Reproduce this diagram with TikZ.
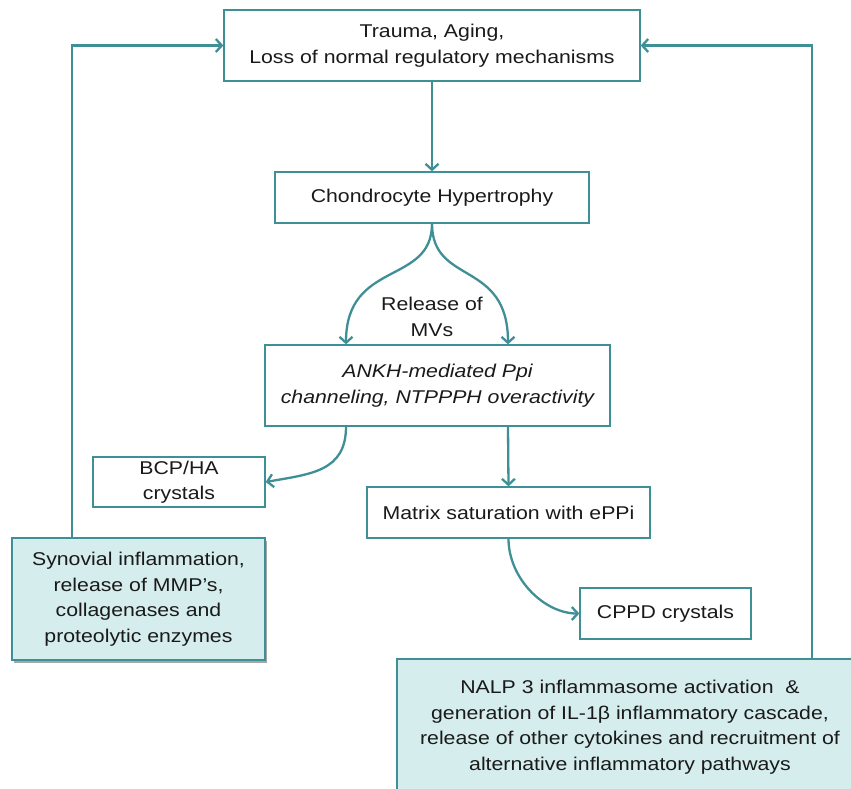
\documentclass[tikz,border=0pt]{standalone}
\usepackage{fontspec}
\setmainfont{Liberation Sans}[FakeStretch=1.15]
\usetikzlibrary{arrows.meta,shadows}
\definecolor{teal1}{HTML}{3F8F96}
\definecolor{tealfill}{HTML}{D6EDEE}
\definecolor{txt}{HTML}{1A1A1A}
\begin{document}
\begin{tikzpicture}[x=1pt,y=-1pt,
  box/.style={draw=teal1,line width=1.3pt,rectangle,inner sep=0pt,align=center,
    text=txt,font=\fontsize{18.5}{25.5}\selectfont},
  fbox/.style={box,fill=tealfill,drop shadow={shadow xshift=2pt,shadow yshift=-2.5pt,fill=black,opacity=0.35}},
  arr/.style={draw=teal1,line width=2.3pt,-{Straight Barb[length=6pt,width=13pt,line width=2.3pt]}},
  lbl/.style={text=txt,align=center,font=\fontsize{18.5}{25.5}\selectfont}]
\clip (0,0) rectangle (851,788);
\fill[white] (0,0) rectangle (851,788);
\node[box,minimum width=416pt,minimum height=71pt] (b1) at (432,45.5) {Trauma, Aging,\\Loss of normal regulatory mechanisms};
\node[box,minimum width=314pt,minimum height=51pt] (b2) at (432,197.5) {Chondrocyte Hypertrophy};
\node[box,minimum width=345pt,minimum height=81pt] (b3) at (437.5,385.5) {\itshape ANKH-mediated Ppi\\\itshape channeling, NTPPPH overactivity};
\node[box,minimum width=172pt,minimum height=50pt] (bcp) at (179,482) {BCP/HA\\crystals};
\node[box,minimum width=283pt,minimum height=51pt] (mat) at (508.5,512.5) {Matrix saturation with ePPi};
\node[fbox,minimum width=253pt,minimum height=122pt] (syn) at (138.5,599) {Synovial inflammation,\\release of MMP’s,\\collagenases and\\proteolytic enzymes};
\node[box,minimum width=171pt,minimum height=51pt] (cppd) at (665.5,613.5) {CPPD crystals};
\node[fbox,minimum width=466pt,minimum height=136pt] (nalp) at (630,727) {NALP 3 inflammasome activation \ \&\\generation of IL-1β inflammatory cascade,\\release of other cytokines and recruitment of\\alternative inflammatory pathways};
\node[lbl] (rel) at (432,317) {Release of\\MVs};
\coordinate (lc) at (72,45);
\coordinate (rc) at (812,45);
\draw[arr] (syn.north -| lc) |- (b1.west);
\draw[arr] (nalp.north -| rc) |- (b1.east);
\draw[arr] (b1.south) -- (b2.north);
\draw[arr] (b2.south) .. controls +(0,62) and +(0,-85) .. ([xshift=-91.5pt]b3.north);
\draw[arr] (b2.south) .. controls +(0,62) and +(0,-85) .. ([xshift=70.5pt]b3.north);
\draw[arr] ([xshift=-91.5pt]b3.south) .. controls +(0,45) and +(45,-8) .. (bcp.east);
\draw[arr] ([xshift=70.5pt]b3.south) -- (mat.north);
\draw[arr] (mat.south) .. controls +(0,40) and +(-35,0) .. (cppd.west);
\end{tikzpicture}
\end{document}
